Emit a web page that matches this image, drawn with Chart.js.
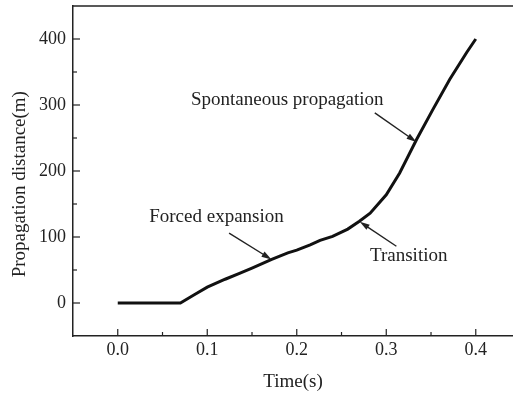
<!DOCTYPE html>
<html>
<head>
<meta charset="utf-8">
<script src="https://cdn.jsdelivr.net/npm/chart.js@4"></script>
<style>
  html, body { margin: 0; padding: 0; background: #fff; }
  #wrap { width: 513px; height: 395px; }
</style>
</head>
<body>
<div id="wrap"><canvas id="distChart"></canvas></div>
<script>
// values
var times = [0, 0.07, 0.085, 0.1, 0.12, 0.136, 0.15, 0.172, 0.19, 0.2, 0.215, 0.226, 0.24, 0.257, 0.27, 0.282, 0.3, 0.315, 0.334, 0.352, 0.371, 0.39, 0.4];
var distances = [0, 0, 12, 24, 36, 45, 53, 66, 76, 80, 88, 95, 101, 112, 124, 136, 164, 197, 248, 293, 339, 380, 400];
var xTicks = [0, 0.1, 0.2, 0.3, 0.4];
var yTicks = [0, 100, 200, 300, 400];

// annotations: label, label position, arrow start, arrow tip (data units)
var notes = [
  { text: 'Spontaneous propagation', at: [0.1894, 307], from: [0.2872, 288], to: [0.3337, 244] },
  { text: 'Forced expansion', at: [0.1103, 131], from: [0.1244, 106], to: [0.1717, 66] },
  { text: 'Transition', at: [0.3251, 71], from: [0.3113, 86], to: [0.2704, 123] }
];

var ink = '#222';
var serif = '"Liberation Serif", "Times New Roman", serif';

var points = times.map(function (t, i) { return { x: t, y: distances[i] }; });

var extras = {
  id: 'extras',
  afterDraw: function (chart) {
    var ctx = chart.ctx;
    var xs = chart.scales.x, ys = chart.scales.y;
    var a = chart.chartArea;
    ctx.save();
    ctx.strokeStyle = ink;
    ctx.lineWidth = 1.5;
    // top frame line
    ctx.beginPath();
    ctx.moveTo(a.left, a.top);
    ctx.lineTo(a.right, a.top);
    ctx.stroke();
    // inside ticks, major and minor
    ctx.lineWidth = 1.2;
    for (var v = -0.05; v <= 0.45; v += 0.05) {
      var px = xs.getPixelForValue(v);
      if (px <= a.left + 1 || px >= a.right) continue;
      var major = Math.abs(Math.round(v * 10) - v * 10) < 1e-6;
      ctx.beginPath();
      ctx.moveTo(px, a.bottom);
      ctx.lineTo(px, a.bottom - (major ? 7 : 4));
      ctx.stroke();
    }
    for (var w = -50; w <= 450; w += 50) {
      var py = ys.getPixelForValue(w);
      if (py >= a.bottom - 1 || py <= a.top + 1) continue;
      var maj = w % 100 === 0;
      ctx.beginPath();
      ctx.moveTo(a.left, py);
      ctx.lineTo(a.left + (maj ? 7 : 4), py);
      ctx.stroke();
    }
    ctx.fillStyle = ink;
    ctx.font = '19px ' + serif;
    ctx.textAlign = 'center';
    ctx.textBaseline = 'middle';
    // y axis title
    ctx.save();
    ctx.translate(20, ys.getPixelForValue(180));
    ctx.rotate(-Math.PI / 2);
    ctx.fillText('Propagation distance(m)', 0, 0);
    ctx.restore();
    // annotations
    notes.forEach(function (n) {
      ctx.fillText(n.text, xs.getPixelForValue(n.at[0]), ys.getPixelForValue(n.at[1]));
      var x1 = xs.getPixelForValue(n.from[0]), y1 = ys.getPixelForValue(n.from[1]);
      var x2 = xs.getPixelForValue(n.to[0]), y2 = ys.getPixelForValue(n.to[1]);
      var ang = Math.atan2(y2 - y1, x2 - x1);
      ctx.lineWidth = 1.4;
      ctx.beginPath();
      ctx.moveTo(x1, y1);
      ctx.lineTo(x2 - 6 * Math.cos(ang), y2 - 6 * Math.sin(ang));
      ctx.stroke();
      ctx.beginPath();
      ctx.moveTo(x2, y2);
      ctx.lineTo(x2 - 10 * Math.cos(ang) + 3 * Math.sin(ang), y2 - 10 * Math.sin(ang) - 3 * Math.cos(ang));
      ctx.lineTo(x2 - 10 * Math.cos(ang) - 3 * Math.sin(ang), y2 - 10 * Math.sin(ang) + 3 * Math.cos(ang));
      ctx.closePath();
      ctx.fill();
    });
    ctx.restore();
  }
};

var myChart = new Chart(document.getElementById('distChart').getContext('2d'), {
  type: 'scatter',
  data: {
    datasets: [{
      data: points,
      showLine: true,
      borderColor: '#111',
      borderWidth: 3,
      pointRadius: 0,
      tension: 0
    }]
  },
  options: {
    responsive: true,
    maintainAspectRatio: false,
    animation: false,
    layout: { padding: { top: 6, right: 0, left: 0, bottom: 0 } },
    plugins: { legend: { display: false }, tooltip: { enabled: false } },
    scales: {
      x: {
        type: 'linear',
        min: -0.05,
        max: 0.4416,
        afterBuildTicks: function (s) { s.ticks = xTicks.map(function (v) { return { value: v }; }); },
        afterFit: function (s) { s.height = 59; s.paddingLeft = 0; s.paddingRight = 0; },
        grid: { display: false, drawTicks: false },
        border: { display: true, color: ink, width: 1.5 },
        ticks: {
          padding: 3,
          color: ink,
          font: { family: serif, size: 18 },
          maxRotation: 0,
          callback: function (v) { return v.toFixed(1); }
        },
        title: {
          display: true,
          text: 'Time(s)',
          color: ink,
          font: { family: serif, size: 19 },
          padding: { top: 0, bottom: 2 }
        }
      },
      y: {
        min: -50,
        max: 450,
        afterBuildTicks: function (s) { s.ticks = yTicks.map(function (v) { return { value: v }; }); },
        afterFit: function (s) { s.width = 73; s.paddingTop = 0; s.paddingBottom = 0; },
        grid: { display: false, drawTicks: false },
        border: { display: true, color: ink, width: 1.5 },
        ticks: {
          padding: 7,
          color: ink,
          font: { family: serif, size: 18 },
          callback: function (v) { return String(v); }
        }
      }
    }
  },
  plugins: [extras]
});
</script>
</body>
</html>
